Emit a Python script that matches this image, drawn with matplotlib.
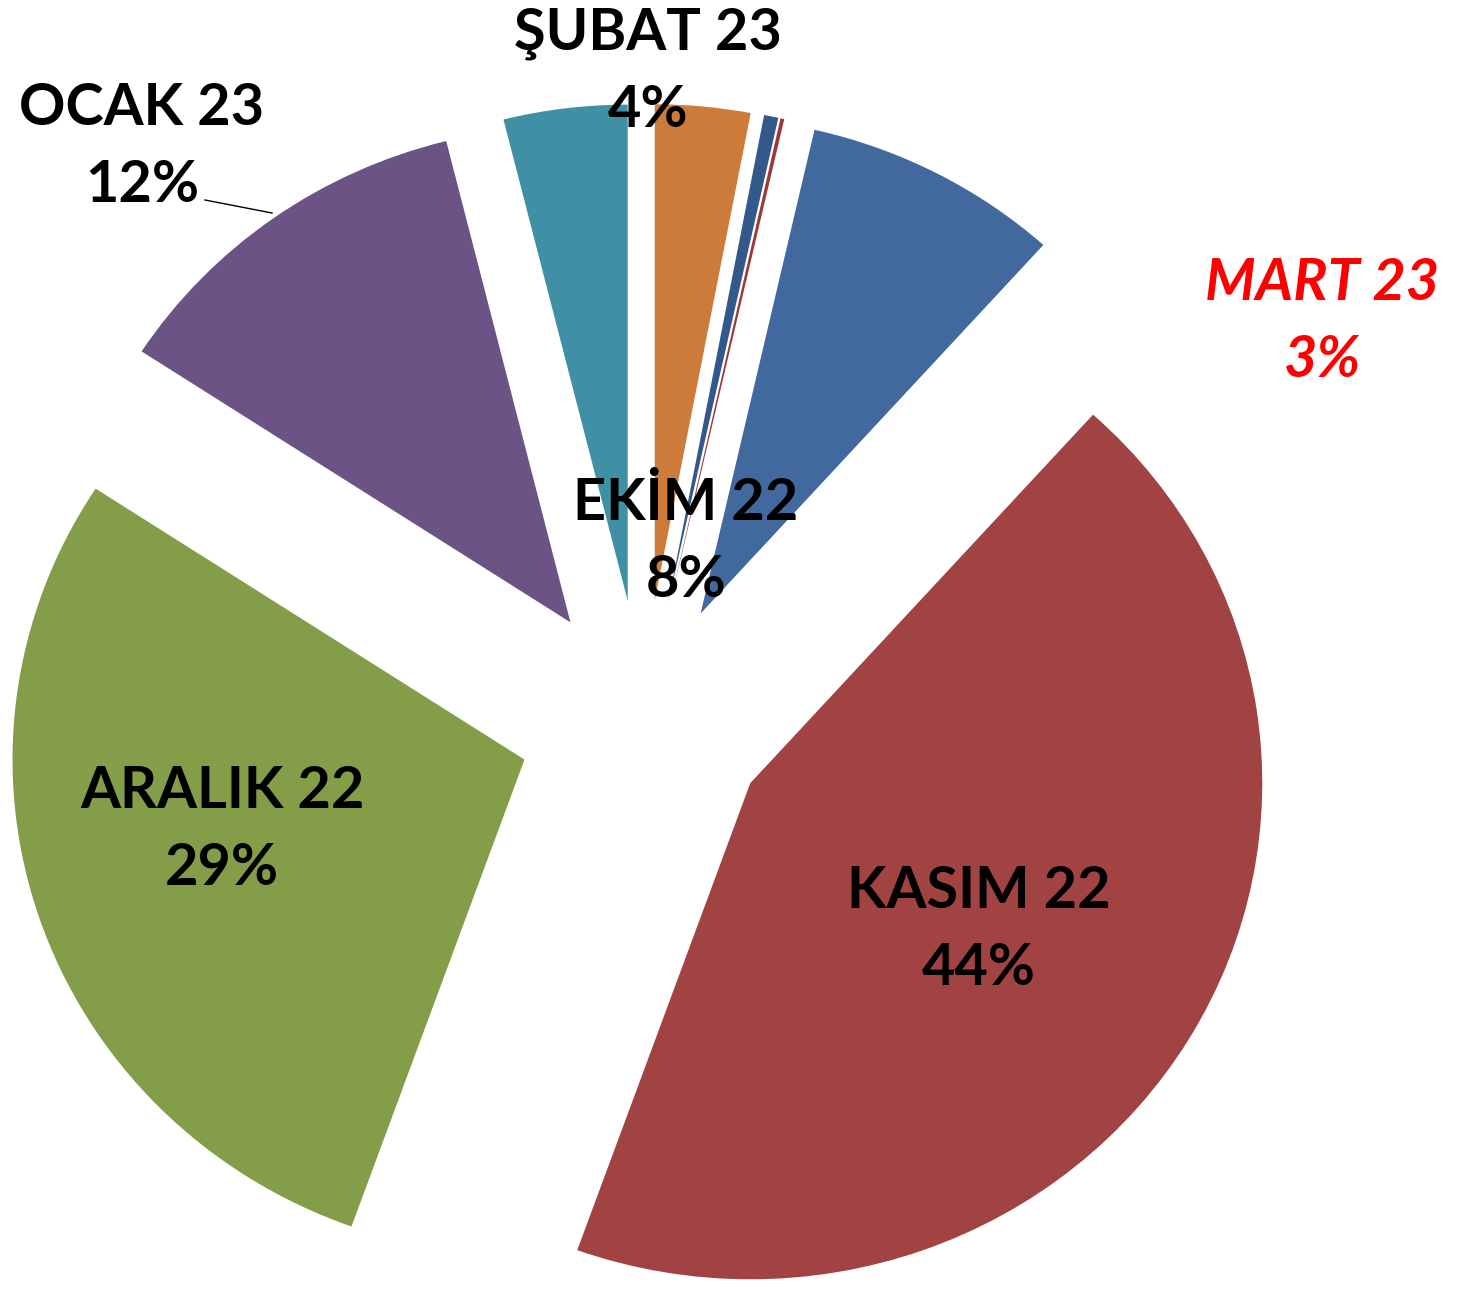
import matplotlib
matplotlib.use("Agg")
import matplotlib.pyplot as plt
from matplotlib.lines import Line2D

# ---- data ----
months = ["EKİM 22", "KASIM 22", "ARALIK 22", "OCAK 23", "ŞUBAT 23", "MART 23", "", ""]
shares = [8.1, 43.8, 28.7, 11.9, 3.9, 3.0, 0.45, 0.12]
pct_labels = ["8%", "44%", "29%", "12%", "4%", "3%", "", ""]
colors = ["#41699E", "#A04342", "#839D49", "#6B5386", "#3F8FA5", "#CD7B3B", "#33598A", "#9A3A38"]

W, H = 1469, 1289
YS = 0.969  # vertical squash of the pie (pixels per data unit in y)

fig = plt.figure(figsize=(W / 100, H / 100), dpi=100)
ax = fig.add_axes([0, 0, 1, 1])

total = sum(shares)
lead = sum(shares[5:])  # MART + tiny slices sit before EKİM (clockwise from 12 o'clock)
start = 90 - 360 * lead / total

cx_px, cy_px = 643, 721
R = 512
ex = 125
ax.pie(shares, colors=colors, startangle=start, counterclock=False,
       center=(cx_px, (H - cy_px) / YS), radius=R,
       explode=[ex] * len(shares), frame=True,
       wedgeprops=dict(linewidth=0))
ax.set_xlim(0, W)
ax.set_ylim(0, H / YS)
ax.set_aspect("auto")
ax.axis("off")

FONT = ["Lato", "DejaVu Sans"]
FS = 41.5

def label(x, y_base, l1, l2, color="black", style="normal"):
    for txt, yb in ((l1, y_base), (l2, y_base + 77)):
        fig.text(x / W, 1 - yb / H, txt, ha="center", va="baseline",
                 fontsize=FS, fontweight="bold", color=color, style=style,
                 family=FONT)

label(648, 50, months[4], pct_labels[4])
label(142, 125, months[3], pct_labels[3])
label(1322, 300, months[5], pct_labels[5], color="#FF0000", style="italic")
label(686, 520, months[0], pct_labels[0])
label(222, 808, months[2], pct_labels[2])
label(979, 908, months[1], pct_labels[1])

# leader line for OCAK 23
fig.add_artist(Line2D([205 / W, 272 / W], [1 - 200 / H, 1 - 213 / H],
                      color="black", linewidth=1))

fig.savefig("out.png", dpi=100, facecolor="white")
